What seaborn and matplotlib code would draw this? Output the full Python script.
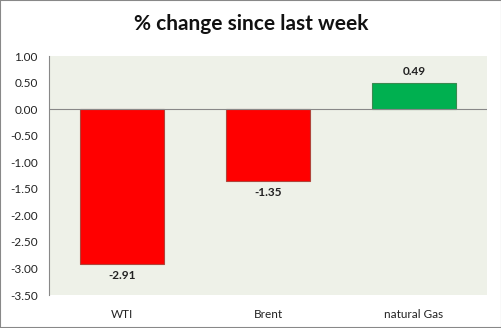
import matplotlib
matplotlib.use("Agg")
import matplotlib.pyplot as plt
import seaborn as sns
import pandas as pd
from matplotlib.patches import Rectangle

categories = ["WTI", "Brent", "natural Gas"]
values = [-2.91, -1.35, 0.49]
colors = ["#FF0000", "#FF0000", "#00B050"]
edges = ["#B0443A", "#B0443A", "#3A8A50"]
yticks = [1.00, 0.50, 0.00, -0.50, -1.00, -1.50, -2.00, -2.50, -3.00, -3.50]

sns.set_theme(style="white")
plt.rcParams["font.family"] = ["Lato", "DejaVu Sans"]

df = pd.DataFrame({"cat": categories, "val": values})

fig = plt.figure(figsize=(5.02, 3.28), dpi=100)
ax = fig.add_axes([49/502, 1 - 295/328, 438/502, 239/328])
sns.barplot(data=df, x="cat", y="val", hue="cat", palette=colors, legend=False,
            width=0.57, ax=ax, saturation=1)
for p, ec in zip(ax.patches, edges):
    p.set_edgecolor(ec)
    p.set_linewidth(0.8)

ax.set_facecolor("#EEF1E8")
ax.set_ylim(-3.5, 1.0)
ax.set_yticks(yticks)
ax.set_yticklabels([f"{t:.2f}" for t in yticks], fontsize=8.5, color="#222222")
ax.set_xticks(range(len(categories)))
ax.set_xticklabels(categories, fontsize=8.5, color="#222222")
ax.tick_params(axis="x", length=0, pad=10)
ax.tick_params(axis="y", length=0, pad=8)
ax.set_xlabel("")
ax.set_ylabel("")
for s in ["top", "right", "bottom"]:
    ax.spines[s].set_visible(False)
ax.spines["left"].set_color("#888888")
ax.spines["left"].set_linewidth(0.8)
ax.axhline(0, color="#888888", lw=0.8, zorder=3)

for i, v in enumerate(values):
    off = 0.22 if v > 0 else -0.22
    ax.text(i, v + off, f"{v:.2f}", ha="center", va="center", fontsize=8.5,
            fontweight="bold", color="#222222")

fig.text(0.5, 1 - 24/328, "% change since last week", ha="center", va="center",
         fontsize=15, fontweight="bold", color="#111111")
fig.patches.append(Rectangle((0, 0), 1, 1, transform=fig.transFigure, fill=False,
                             edgecolor="#888888", lw=1.5))
fig.savefig("out.png", dpi=100, facecolor="white")
